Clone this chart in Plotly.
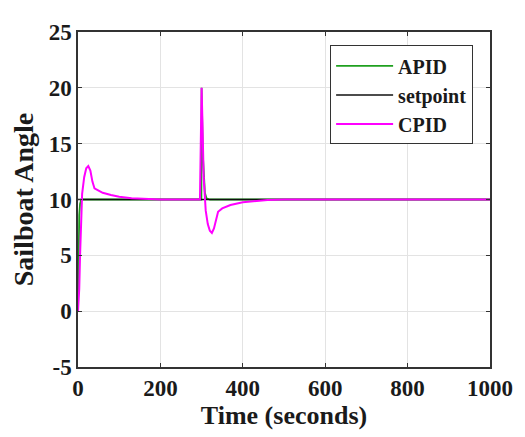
import plotly.graph_objects as go

# Data
apid_t = [0, 1, 2, 3, 5, 8, 299.5, 300, 301, 303, 305, 308, 312, 320, 1000]
apid_y = [0, 4, 7, 8.6, 9.6, 10, 10, 20, 18, 14, 12, 10.6, 10.1, 10, 10]

setpoint_t = [0, 1000]
setpoint_y = [10, 10]

cpid_t = [0, 3, 5, 7, 10, 15, 20, 25, 30, 35, 40, 50, 60, 80, 100, 130, 160, 200, 250,
          296, 298, 300, 302, 305, 310, 315, 320, 325, 330, 335, 340, 350, 370, 400,
          430, 460, 500, 600, 800, 1000]
cpid_y = [0, 2, 5, 8, 10.5, 12, 12.8, 13.0, 12.6, 11.6, 11.0, 10.8, 10.6, 10.4, 10.25,
          10.12, 10.05, 10.0, 10.0, 10.0, 15, 20, 17, 12, 9, 7.8, 7.2, 7.0, 7.4, 8.3,
          8.9, 9.2, 9.5, 9.75, 9.88, 9.95, 10, 10, 10, 10]

x_ticks = [0, 200, 400, 600, 800, 1000]
y_ticks = [-5, 0, 5, 10, 15, 20, 25]

font_family = "Liberation Serif, Times New Roman, serif"

fig = go.Figure()
fig.add_trace(go.Scatter(x=apid_t, y=apid_y, mode="lines", name="<b>APID</b>",
                         line=dict(color="#1fa01f", width=1.8)))
fig.add_trace(go.Scatter(x=setpoint_t, y=setpoint_y, mode="lines", name="<b>setpoint</b>",
                         line=dict(color="#111111", width=1.5)))
fig.add_trace(go.Scatter(x=cpid_t, y=cpid_y, mode="lines", name="<b>CPID</b>",
                         line=dict(color="#ff00ff", width=2)))

axis_common = dict(showgrid=True, gridcolor="#e3e3e3", gridwidth=1, zeroline=False,
                   showline=True, linecolor="#333333", linewidth=1.5, mirror="ticks",
                   ticks="inside", ticklen=4, tickcolor="#333333",
                   tickfont=dict(family=font_family, size=23, color="#1a1a1a",
                                 weight="bold"))

fig.update_xaxes(range=[0, 1000], tickvals=x_ticks,
                 ticktext=["<b>%d</b>" % v for v in x_ticks],
                 title=dict(text="<b>Time (seconds)</b>", standoff=0,
                            font=dict(family=font_family, size=26, color="#1a1a1a")),
                 **axis_common)
fig.update_yaxes(range=[-5, 25], tickvals=y_ticks,
                 ticktext=["<b>%d</b>" % v for v in y_ticks],
                 title=dict(text="<b>Sailboat Angle</b>", standoff=8,
                            font=dict(family=font_family, size=28, color="#1a1a1a")),
                 **axis_common)

fig.update_layout(
    width=517, height=429,
    margin=dict(l=70, r=35, t=14, b=70),
    paper_bgcolor="white", plot_bgcolor="white",
    showlegend=True,
    legend=dict(x=0.959, y=0.96, xanchor="right", yanchor="top",
                bgcolor="white", bordercolor="#333333", borderwidth=1,
                font=dict(family=font_family, size=20, color="#1a1a1a"),
                itemwidth=57, tracegroupgap=0),
)

fig.write_html("out.html")
